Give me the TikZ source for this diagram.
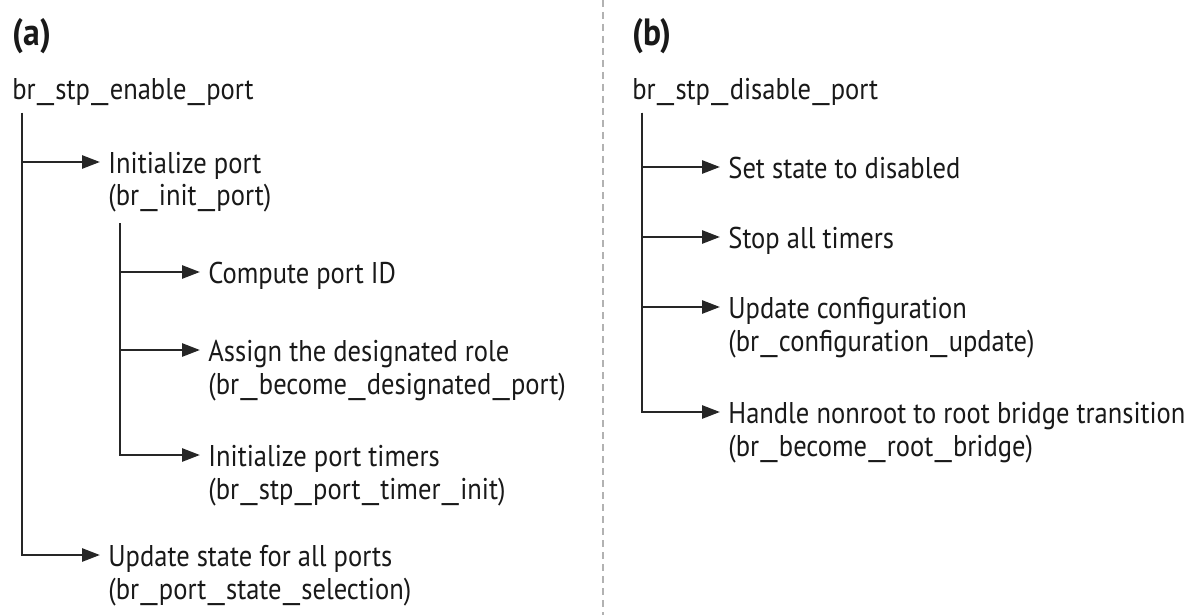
\documentclass[tikz,border=0pt]{standalone}
\usepackage{fontspec}
\usepackage{graphicx}
\setmainfont[FakeStretch=0.885]{PT Sans}
\usetikzlibrary{arrows.meta,calc}
\newcommand\twoline[2]{\begin{tabular}[t]{@{}l@{}}#1\\#2\end{tabular}}
\newcommand\us{\kern0.6pt\scalebox{1.6}[1]{\_}\kern0.6pt}
\begin{document}
\begin{tikzpicture}[x=0.5pt,y=-0.5pt,
  txt/.style={font=\fontsize{15}{16.5}\selectfont, inner sep=0pt, anchor=base west, text=black!90},
  lbl/.style={font=\fontsize{19}{22}\selectfont\bfseries, inner sep=0pt, anchor=base west, text=black!90},
  ln/.style={draw=black!85, line width=1.35pt},
  arr/.style={ln, -{Triangle[length=9pt,width=6.5pt]}},
  divider/.style={draw=black!30, line width=1pt, dash pattern=on 3.5pt off 2.5pt}]
\fill[white] (0,0) rectangle (1194,615);
\useasboundingbox (0,0) rectangle (1194,615);
% divider
\coordinate (dTop) at (603,0);
\coordinate (dBot) at (603,615);
\draw[divider] (dTop) -- (dBot);
% ---------- (a)
\node[lbl] (lblA) at (12,46) {(a)};
\node[txt] (rootA) at (12,100) {br\us stp\us enable\us port};
\coordinate (tA) at (22,113);
\node[txt] (ip) at (108,173) {\twoline{Initialize port}{(br\us init\us port)}};
\node[txt] (us) at (108,566) {\twoline{Update state for all ports}{(br\us port\us state\us selection)}};
\coordinate (tB) at (120,223);
\node[txt] (cp) at (208,283) {Compute port ID};
\node[txt] (ad) at (208,361) {\twoline{Assign the designated role}{(br\us become\us designated\us port)}};
\node[txt] (it) at (208,466) {\twoline{Initialize port timers}{(br\us stp\us port\us timer\us init)}};
\draw[arr] (tA) |- ($(ip.base west)+(-8,-11)$);
\draw[arr] (tA) |- ($(us.base west)+(-8,-11)$);
\draw[arr] (tB) |- ($(cp.base west)+(-8,-11)$);
\draw[arr] (tB) |- ($(ad.base west)+(-8,-11)$);
\draw[arr] (tB) |- ($(it.base west)+(-8,-11)$);
% ---------- (b)
\node[lbl] (lblB) at (632,46) {(b)};
\node[txt] (rootB) at (632,100) {br\us stp\us disable\us port};
\coordinate (tC) at (642,113);
\node[txt] (sd) at (728,178) {Set state to disabled};
\node[txt] (st) at (728,248) {Stop all timers};
\node[txt] (uc) at (728,318) {\twoline{Update configuration}{(br\us configuration\us update)}};
\node[txt] (hn) at (728,423) {\twoline{Handle nonroot to root bridge transition}{(br\us become\us root\us bridge)}};
\draw[arr] (tC) |- ($(sd.base west)+(-8,-11)$);
\draw[arr] (tC) |- ($(st.base west)+(-8,-11)$);
\draw[arr] (tC) |- ($(uc.base west)+(-8,-11)$);
\draw[arr] (tC) |- ($(hn.base west)+(-8,-11)$);
\end{tikzpicture}
\end{document}
